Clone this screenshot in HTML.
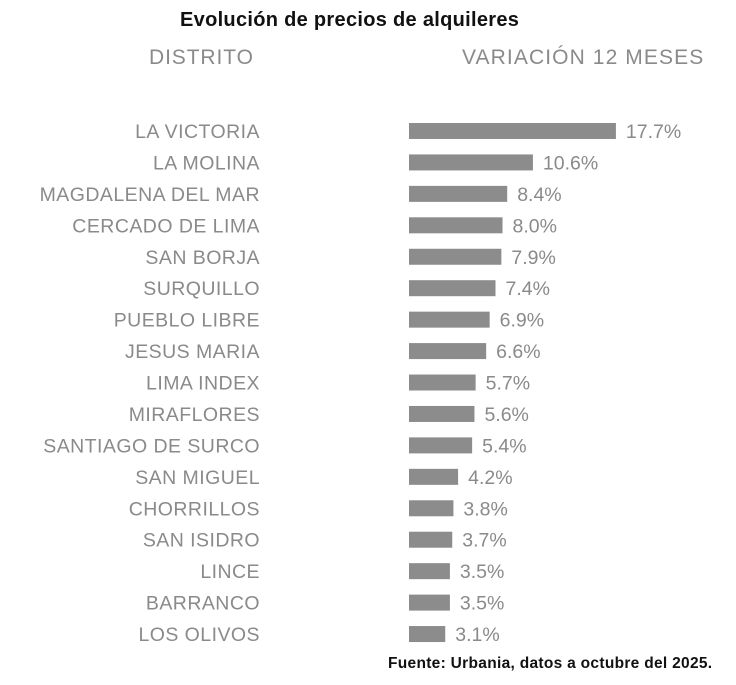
<!DOCTYPE html>
<html><head><meta charset="utf-8">
<style>
body{margin:0;background:#fff;width:736px;height:685px;overflow:hidden;position:relative;font-family:"Liberation Sans",sans-serif}
.t{position:absolute;white-space:nowrap}
</style></head><body>
<div class="t" style="left:180px;top:9px;font-size:20px;font-weight:bold;color:#111;letter-spacing:0.3px">Evolución de precios de alquileres</div>
<div class="t" style="left:149px;top:46px;font-size:21px;color:#8a8a8a;letter-spacing:0.9px">DISTRITO</div>
<div class="t" style="left:462px;top:46px;font-size:21px;color:#8a8a8a;letter-spacing:1.1px">VARIACIÓN 12 MESES</div>
<svg id="chart" width="736" height="685" style="position:absolute;left:0;top:0"></svg>
<div class="t" style="left:388px;top:655px;font-size:15.5px;font-weight:bold;color:#111;letter-spacing:0.3px">Fuente: Urbania, datos a octubre del 2025.</div>
<script>
const categories=["LA VICTORIA","LA MOLINA","MAGDALENA DEL MAR","CERCADO DE LIMA","SAN BORJA","SURQUILLO","PUEBLO LIBRE","JESUS MARIA","LIMA INDEX","MIRAFLORES","SANTIAGO DE SURCO","SAN MIGUEL","CHORRILLOS","SAN ISIDRO","LINCE","BARRANCO","LOS OLIVOS"];
const values=[17.7,10.6,8.4,8.0,7.9,7.4,6.9,6.6,5.7,5.6,5.4,4.2,3.8,3.7,3.5,3.5,3.1];
const labels=["17.7%","10.6%","8.4%","8.0%","7.9%","7.4%","6.9%","6.6%","5.7%","5.6%","5.4%","4.2%","3.8%","3.7%","3.5%","3.5%","3.1%"];
const svg=document.getElementById('chart');const NS='http://www.w3.org/2000/svg';
const x=v=>409+v*11.69;const y=i=>131+i*31.44;
categories.forEach((c,i)=>{
 const r=document.createElementNS(NS,'rect');
 r.setAttribute('x',409);r.setAttribute('y',y(i)-8);r.setAttribute('width',x(values[i])-409);r.setAttribute('height',16);r.setAttribute('fill','#8c8c8c');
 
 
 svg.appendChild(r);
 const t=document.createElementNS(NS,'text');
 t.setAttribute('x',260);t.setAttribute('y',y(i)+7);t.setAttribute('text-anchor','end');t.setAttribute('font-size','19.5');t.setAttribute('letter-spacing','0.45');t.setAttribute('fill','#8a8a8a');t.setAttribute('font-family','Liberation Sans, sans-serif');t.textContent=c;
 
 
 svg.appendChild(t);
 const v=document.createElementNS(NS,'text');
 v.setAttribute('x',x(values[i])+10);v.setAttribute('y',y(i)+7);v.setAttribute('font-size','19.5');v.setAttribute('fill','#8a8a8a');v.setAttribute('font-family','Liberation Sans, sans-serif');v.textContent=labels[i];
 
 
 svg.appendChild(v);
});
</script>
</body></html>
